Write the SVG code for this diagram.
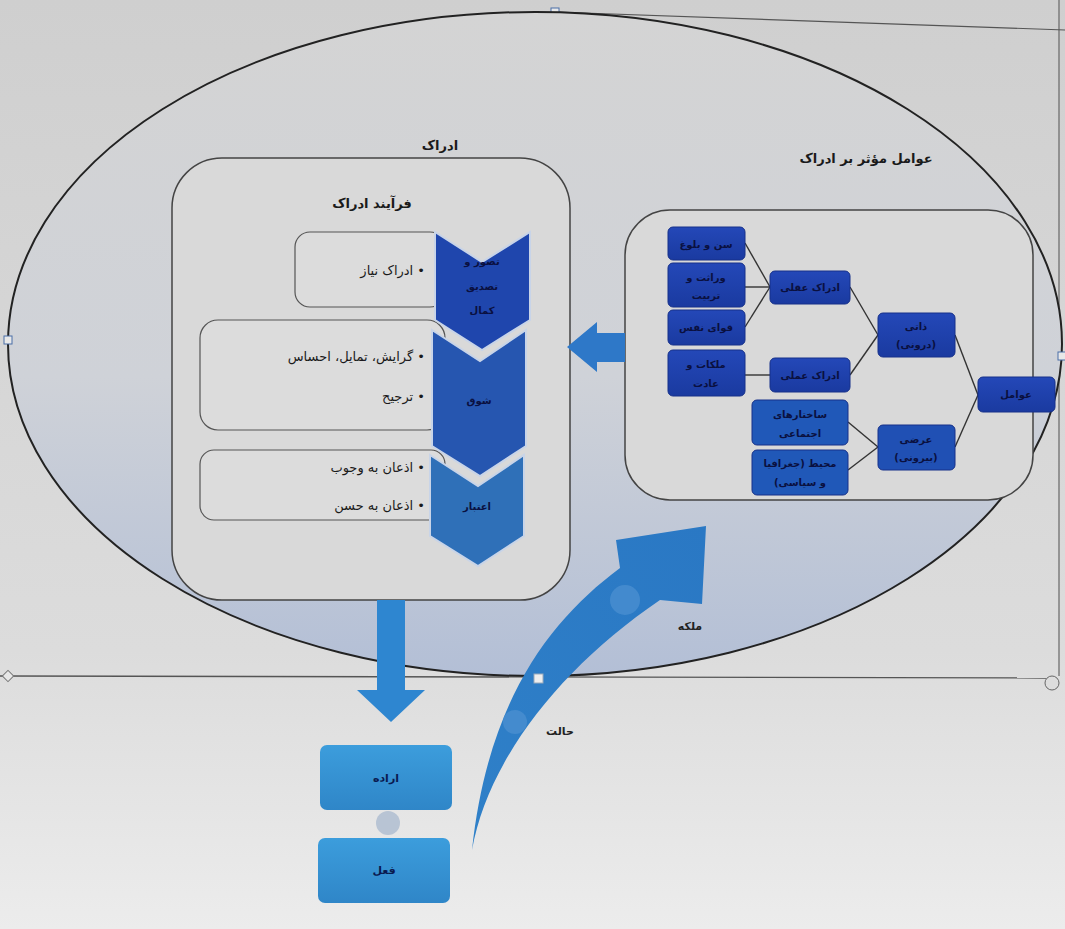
<svg xmlns="http://www.w3.org/2000/svg" width="1065" height="929" viewBox="0 0 1065 929">
<defs>
<linearGradient id="bg" x1="0" y1="0" x2="0" y2="1">
<stop offset="0" stop-color="#cfcfcf"/><stop offset="0.7" stop-color="#dcdcdc"/><stop offset="1" stop-color="#ececec"/>
</linearGradient>
<linearGradient id="ell" x1="0" y1="0" x2="0" y2="1">
<stop offset="0" stop-color="#d4d4d4"/><stop offset="0.55" stop-color="#cfd2d8"/><stop offset="1" stop-color="#b3bfd6"/>
</linearGradient>
<linearGradient id="dk" x1="0" y1="0" x2="0" y2="1">
<stop offset="0" stop-color="#2448b8"/><stop offset="1" stop-color="#1a3aa0"/>
</linearGradient>
<linearGradient id="lb" x1="0" y1="0" x2="0" y2="1">
<stop offset="0" stop-color="#3c9ddc"/><stop offset="1" stop-color="#2f86c8"/>
</linearGradient>
<linearGradient id="curv" x1="0" y1="1" x2="1" y2="0">
<stop offset="0" stop-color="#2f80c8"/><stop offset="1" stop-color="#2a78c4"/>
</linearGradient>
</defs>
<style>
text{font-family:"DejaVu Sans","Noto Sans",sans-serif;fill:#1a1a1a;direction:rtl}
.t{font-size:13px;font-weight:bold}
.b{font-size:13px}
.n{font-size:10px;fill:#0a1040;font-weight:bold}
.c{font-size:11px;fill:#0a1a50;font-weight:bold}
.dbox{fill:url(#dk);stroke:#16308a;stroke-width:1}
.panel{fill:#d9d9d9;stroke:#444;stroke-width:1.5}
.item{fill:#dcdcdc;stroke:#555;stroke-width:1.2}
.ln{stroke:#333;stroke-width:1.4;fill:none}
</style>
<rect width="1065" height="929" fill="url(#bg)"/>
<g id="frame">
<line x1="0" y1="676" x2="1046" y2="678" stroke="#555" stroke-width="1.3"/>
<line x1="1059" y1="0" x2="1059" y2="676" stroke="#666" stroke-width="1.2"/>
<line x1="555" y1="12" x2="1065" y2="30" stroke="#555" stroke-width="1.2"/>
<circle cx="1052" cy="683" r="7" fill="#ddd" stroke="#666"/>
<rect x="551" y="8" width="8" height="8" fill="#e8e8e8" stroke="#4a6fa8"/>
<rect x="4" y="672" width="8" height="8" fill="#e8e8e8" stroke="#777" transform="rotate(45 8 676)"/>
</g>
<g id="ellipse">
<ellipse cx="535" cy="344" rx="527" ry="332" fill="url(#ell)" stroke="#222" stroke-width="2"/>
<rect x="4" y="336" width="8" height="8" fill="#e8e8e8" stroke="#4a6fa8"/>
<rect x="1058" y="352" width="8" height="8" fill="#e8e8e8" stroke="#4a6fa8"/>
</g>
<g id="perception">
<text class="t" x="440" y="150" text-anchor="middle">ادراک</text>
<rect class="panel" x="172" y="158" width="398" height="442" rx="50"/>
<text class="t" x="372" y="208" text-anchor="middle">فرآیند ادراک</text>
</g>
<g id="item1">
<rect class="item" x="295" y="232" width="150" height="75" rx="15"/>
<text class="b" x="425" y="275">• ادراک نیاز</text>
</g>
<g id="item2">
<rect class="item" x="200" y="320" width="245" height="110" rx="18"/>
<text class="b" x="425" y="361">• گرایش، تمایل، احساس</text>
<text class="b" x="425" y="401">• ترجیح</text>
</g>
<g id="item3">
<rect class="item" x="200" y="450" width="245" height="70" rx="14"/>
<text class="b" x="425" y="472">• اذعان به وجوب</text>
<text class="b" x="425" y="510">• اذعان به حسن</text>
</g>
<g id="chevron1">
<polygon points="435,232 482,262 530,232 530,320 482,350 435,320" fill="#1f46ad" stroke="#c8d4e8" stroke-width="2"/>
<text class="n" x="482" y="265" text-anchor="middle">تصور و</text>
<text class="n" x="482" y="290" text-anchor="middle">تصدیق</text>
<text class="n" x="482" y="314" text-anchor="middle">کمال</text>
</g>
<g id="chevron2">
<polygon points="432,330 480,361 526,330 526,446 480,476 432,446" fill="#2656b0" stroke="#c8d4e8" stroke-width="2"/>
<text class="n" x="479" y="404" text-anchor="middle">شوق</text>
</g>
<g id="chevron3">
<polygon points="430,455 478,486 524,455 524,536 478,566 430,536" fill="#2f70b8" stroke="#c8d4e8" stroke-width="2"/>
<text class="n" x="477" y="510" text-anchor="middle">اعتبار</text>
</g>
<g id="factors">
<text class="t" x="866" y="163" text-anchor="middle">عوامل مؤثر بر ادراک</text>
<rect class="panel" x="625" y="210" width="408" height="290" rx="45"/>
</g>
<g id="connectors">
<polygon points="625,333 597,333 597,322 567,347 597,372 597,362 625,362" fill="#2e78c8"/>
<line class="ln" x1="745" y1="243" x2="770" y2="287"/>
<line class="ln" x1="745" y1="287" x2="770" y2="287"/>
<line class="ln" x1="745" y1="327" x2="770" y2="287"/>
<line class="ln" x1="745" y1="375" x2="770" y2="375"/>
<line class="ln" x1="850" y1="287" x2="878" y2="335"/>
<line class="ln" x1="850" y1="375" x2="878" y2="335"/>
<line class="ln" x1="848" y1="422" x2="878" y2="447"/>
<line class="ln" x1="848" y1="470" x2="878" y2="447"/>
<line class="ln" x1="955" y1="335" x2="978" y2="395"/>
<line class="ln" x1="955" y1="447" x2="978" y2="395"/>
<polygon points="377,600 405,600 405,690 425,690 391,722 357,690 377,690" fill="#2e86d0"/>
<circle cx="388" cy="823" r="12" fill="#b8c4d4"/>
<path d="M472,850 C488,760 560,668 660,600 L702,604 L706,526 L616,540 L620,568 C550,620 488,700 472,850 Z" fill="url(#curv)"/>
<circle cx="625" cy="600" r="15" fill="#4a8fd0" opacity="0.8"/>
<circle cx="515" cy="722" r="12" fill="#4a8fd0" opacity="0.8"/>
<rect x="534" y="674" width="9" height="9" fill="#eeeeee" stroke="#9ab"/>
<text class="c" x="690" y="630" text-anchor="middle" style="fill:#222">ملکه</text>
<text class="c" x="560" y="735" text-anchor="middle" style="fill:#222">حالت</text>
</g>
<g id="f1"><rect class="dbox" x="668" y="227" width="77" height="33" rx="5"/><text class="n" x="706" y="248" text-anchor="middle">سن و بلوغ</text></g>
<g id="f2"><rect class="dbox" x="668" y="263" width="77" height="44" rx="5"/><text class="n" x="706" y="281" text-anchor="middle">وراثت و</text><text class="n" x="706" y="299" text-anchor="middle">تربیت</text></g>
<g id="f3"><rect class="dbox" x="668" y="310" width="77" height="35" rx="5"/><text class="n" x="706" y="331" text-anchor="middle">قوای نفس</text></g>
<g id="f4"><rect class="dbox" x="668" y="350" width="77" height="46" rx="5"/><text class="n" x="706" y="368" text-anchor="middle">ملکات و</text><text class="n" x="706" y="387" text-anchor="middle">عادت</text></g>
<g id="m1"><rect class="dbox" x="770" y="271" width="80" height="33" rx="5"/><text class="n" x="810" y="291" text-anchor="middle">ادراک عقلی</text></g>
<g id="m2"><rect class="dbox" x="770" y="358" width="80" height="34" rx="5"/><text class="n" x="810" y="379" text-anchor="middle">ادراک عملی</text></g>
<g id="e1"><rect class="dbox" x="752" y="400" width="96" height="45" rx="5" style="fill:#2058b8"/><text class="n" x="800" y="418" text-anchor="middle">ساختارهای</text><text class="n" x="800" y="437" text-anchor="middle">اجتماعی</text></g>
<g id="e2"><rect class="dbox" x="752" y="450" width="96" height="45" rx="5" style="fill:#2058b8"/><text class="n" x="800" y="467" text-anchor="middle">محیط (جغرافیا</text><text class="n" x="800" y="486" text-anchor="middle">و سیاسی)</text></g>
<g id="t1"><rect class="dbox" x="878" y="313" width="77" height="44" rx="5"/><text class="n" x="916" y="330" text-anchor="middle">ذاتی</text><text class="n" x="916" y="348" text-anchor="middle">(درونی)</text></g>
<g id="t2"><rect class="dbox" x="878" y="425" width="77" height="45" rx="5" style="fill:#2050b4"/><text class="n" x="916" y="443" text-anchor="middle">عرضی</text><text class="n" x="916" y="461" text-anchor="middle">(بیرونی)</text></g>
<g id="root"><rect class="dbox" x="978" y="377" width="77" height="35" rx="5"/><text class="n" x="1016" y="398" text-anchor="middle">عوامل</text></g>
<g id="will"><rect x="320" y="745" width="132" height="65" rx="7" fill="url(#lb)"/><text class="c" x="386" y="782" text-anchor="middle">اراده</text></g>
<g id="act"><rect x="318" y="838" width="132" height="65" rx="7" fill="url(#lb)"/><text class="c" x="384" y="874" text-anchor="middle">فعل</text></g>
</svg>
